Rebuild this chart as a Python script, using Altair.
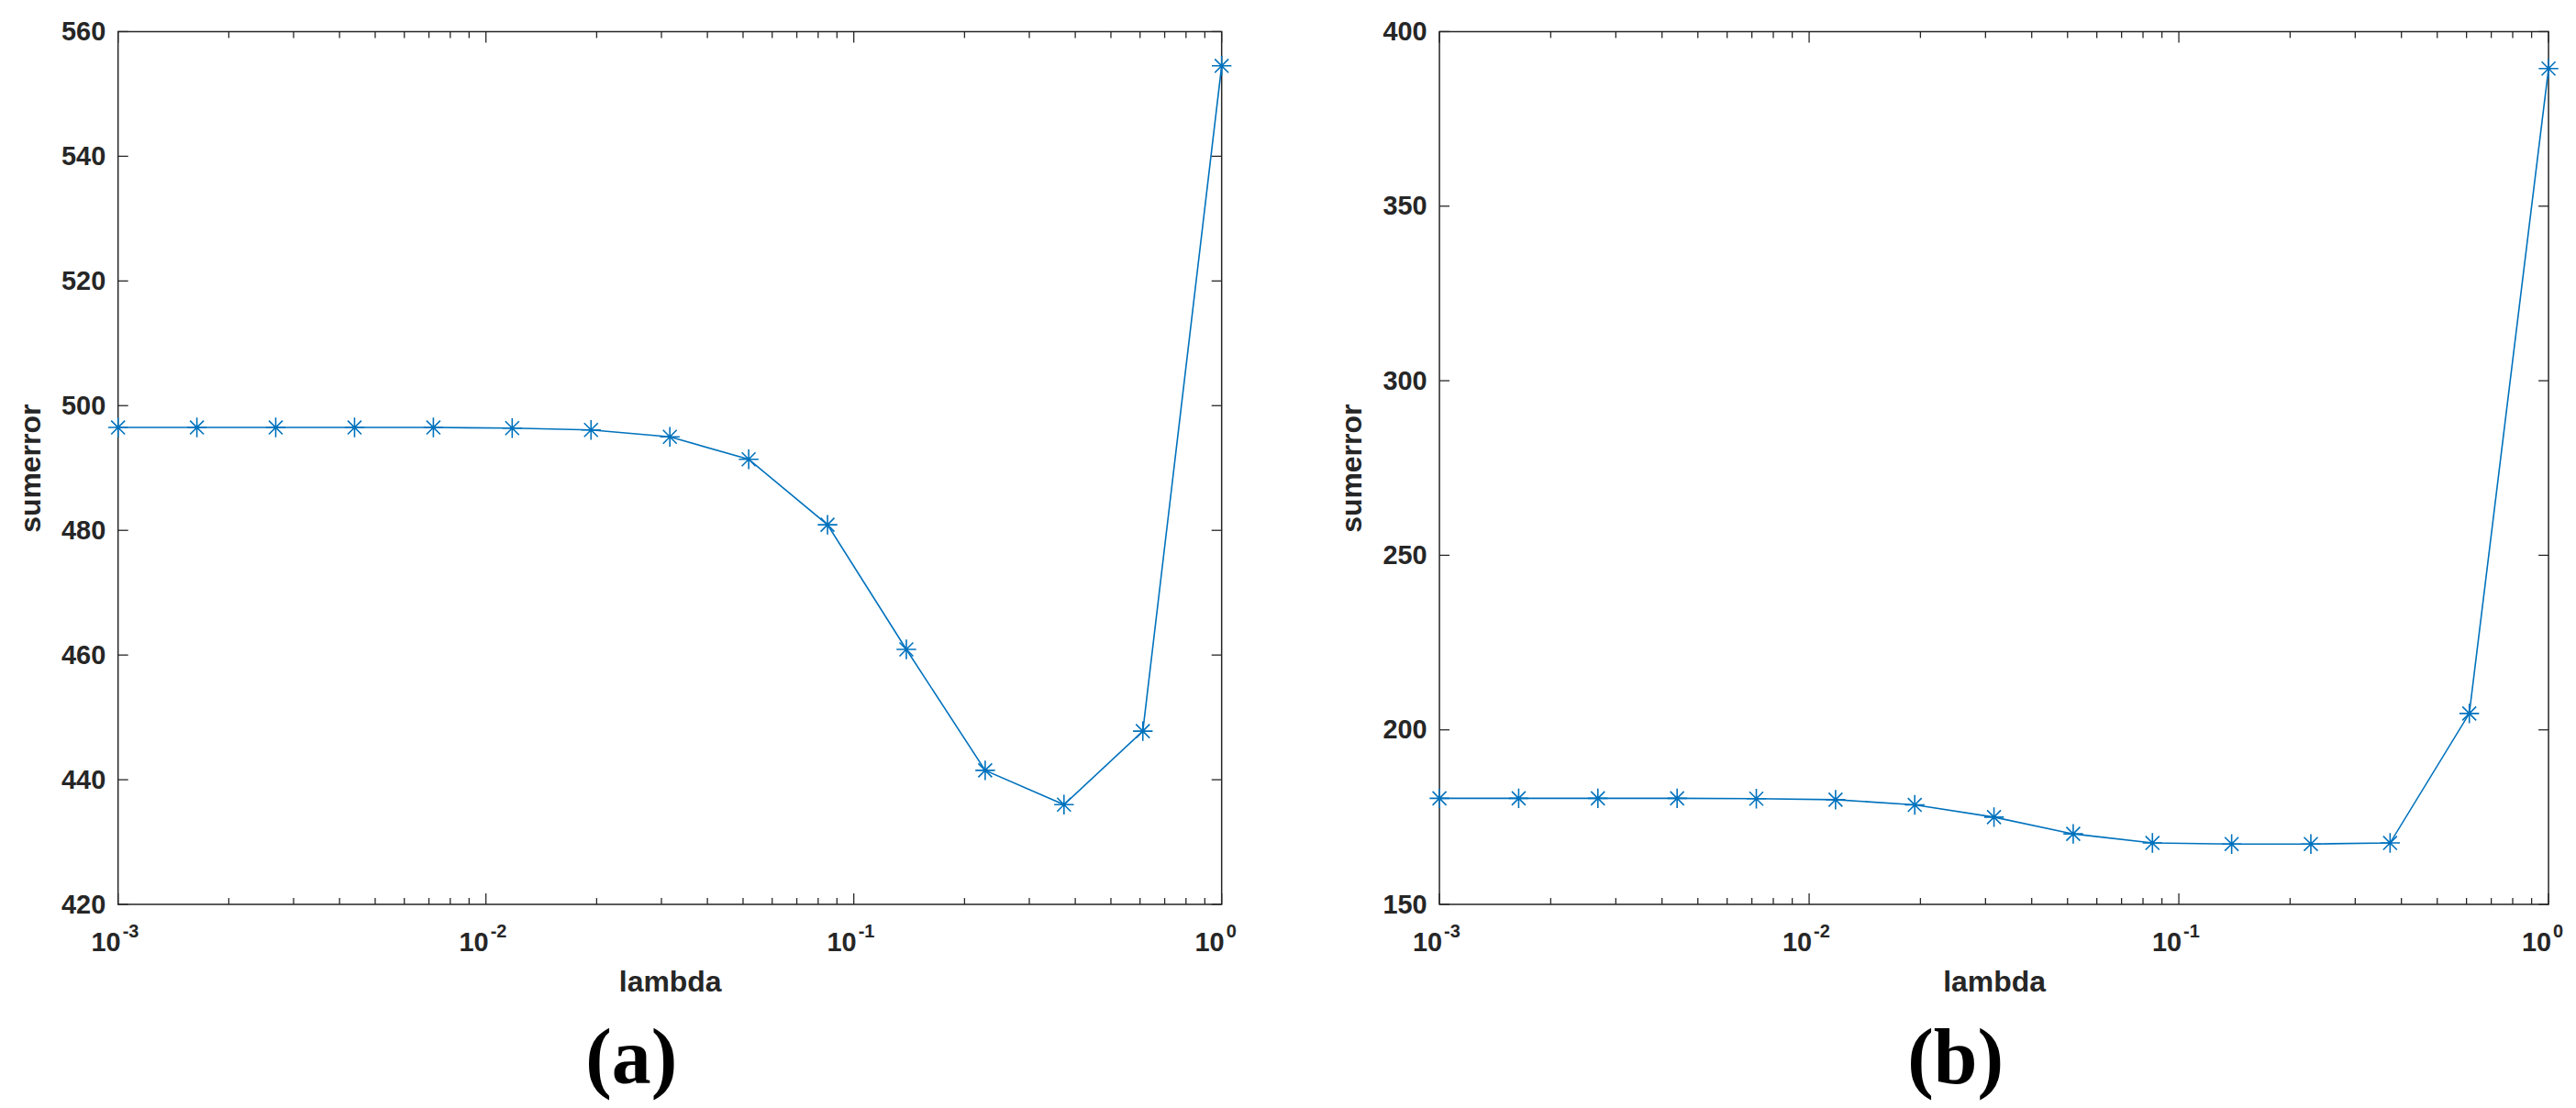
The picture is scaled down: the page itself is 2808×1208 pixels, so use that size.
import altair as alt
import pandas as pd

# ---------------- data ----------------
lam = [0.001, 0.0016379, 0.0026827, 0.0043940, 0.0071969, 0.0117877, 0.0193070,
       0.0316228, 0.0517947, 0.0848343, 0.1389495, 0.2275846, 0.3727594, 0.6105402, 1.0]
err_a = [496.5, 496.5, 496.5, 496.5, 496.5, 496.4, 496.1, 495.0, 491.4, 480.9,
         460.9, 441.5, 436.0, 447.8, 554.5]
err_b = [180.4, 180.4, 180.4, 180.4, 180.3, 180.0, 178.5, 175.0, 170.2, 167.6,
         167.3, 167.3, 167.6, 204.7, 389.4]
yticks_a = [420, 440, 460, 480, 500, 520, 540, 560]
yticks_b = [150, 200, 250, 300, 350, 400]
major_ticks = [0.001, 0.01, 0.1, 1.0]
major_exps = ["-3", "-2", "-1", "0"]
minor_ticks = [0.002, 0.003, 0.004, 0.005, 0.006, 0.007, 0.008, 0.009,
               0.02, 0.03, 0.04, 0.05, 0.06, 0.07, 0.08, 0.09,
               0.2, 0.3, 0.4, 0.5, 0.6, 0.7, 0.8, 0.9]

BLUE = "#0072BD"
AX = "#262626"
FONT = "Liberation Sans"
STAR = "M-1,0L1,0M0,-1L0,1M-0.7,-0.7L0.7,0.7M-0.7,0.7L0.7,-0.7"


def panel(err, yt, ydom, W, H, label):
    d = pd.DataFrame({"lambda": lam, "sumerror": err})
    majdf = pd.DataFrame({"lambda": major_ticks, "e": major_exps})
    mindf = pd.DataFrame({"lambda": minor_ticks})
    ytdf = pd.DataFrame({"sumerror": yt})
    xs = alt.Scale(type="log", domain=[0.001, 1.0], nice=False)
    ys = alt.Scale(domain=ydom, nice=False, zero=False)
    xaxis = alt.Axis(title="lambda", labels=False, ticks=False, domain=False,
                     grid=False, titlePadding=70, titleFontSize=32,
                     titleFont=FONT, titleFontWeight="bold", titleColor=AX)
    yaxis = alt.Axis(title="sumerror", values=yt, ticks=False, domain=False,
                     grid=False, labelPadding=14, labelFontSize=29,
                     labelFont=FONT, labelFontWeight="bold", labelColor=AX,
                     titlePadding=16, titleFontSize=32, titleFont=FONT,
                     titleFontWeight="bold", titleColor=AX)
    X = alt.X("lambda:Q", scale=xs, axis=xaxis, title="lambda")
    Y = alt.Y("sumerror:Q", scale=ys, axis=yaxis, title="sumerror")

    line = alt.Chart(d).mark_line(color=BLUE, strokeWidth=1.6).encode(x=X, y=Y)
    pts = alt.Chart(d).mark_point(shape=STAR, filled=False, size=460, strokeWidth=1.6,
                                  color=BLUE, opacity=1).encode(x=X, y=Y)
    rule = dict(color=AX, strokeWidth=1.3)
    bmaj = alt.Chart(majdf).mark_rule(**rule).encode(
        x=X, y=alt.value(H), y2=alt.value(H - 12))
    tmaj = alt.Chart(majdf).mark_rule(**rule).encode(
        x=X, y=alt.value(0), y2=alt.value(12))
    bmin = alt.Chart(mindf).mark_rule(**rule).encode(
        x=X, y=alt.value(H), y2=alt.value(H - 7))
    tmin = alt.Chart(mindf).mark_rule(**rule).encode(
        x=X, y=alt.value(0), y2=alt.value(7))
    yl = alt.Chart(ytdf).mark_rule(**rule).encode(
        y=Y, x=alt.value(0), x2=alt.value(11))
    yr = alt.Chart(ytdf).mark_rule(**rule).encode(
        y=Y, x=alt.value(W - 11), x2=alt.value(W))
    t10 = alt.Chart(majdf).mark_text(text="10", align="right", baseline="alphabetic", dx=3,
                                     fontSize=29, font=FONT, fontWeight="bold",
                                     color=AX).encode(x=X, y=alt.value(H + 51))
    texp = alt.Chart(majdf).mark_text(align="left", baseline="alphabetic", dx=5,
                                      fontSize=20, font=FONT, fontWeight="bold",
                                      color=AX).encode(x=X, y=alt.value(H + 36),
                                                       text="e:N")
    return alt.layer(line, pts, bmaj, bmin, tmaj, tmin, yl, yr, t10, texp).properties(
        width=W, height=H,
        view=alt.ViewBackground(stroke=AX, strokeWidth=1.5, strokeOpacity=1),
        title=alt.TitleParams(label, orient="bottom", font="Liberation Serif",
                              fontSize=86, fontWeight="bold", color="#000000",
                              offset=26, dx=-42, anchor="middle"),
    )


left = panel(err_a, yticks_a, [420, 560], 1206, 954, "(a)")
right = panel(err_b, yticks_b, [150, 400], 1212, 954, "(b)")

chart = alt.hconcat(left, right, spacing=108).properties(
    padding={"left": 8, "top": 10, "right": 5, "bottom": 5}
).configure_view(stroke=AX, strokeWidth=1.5).configure(background="white")

chart.save("out.html", embed_options={"renderer": "svg", "actions": False})
